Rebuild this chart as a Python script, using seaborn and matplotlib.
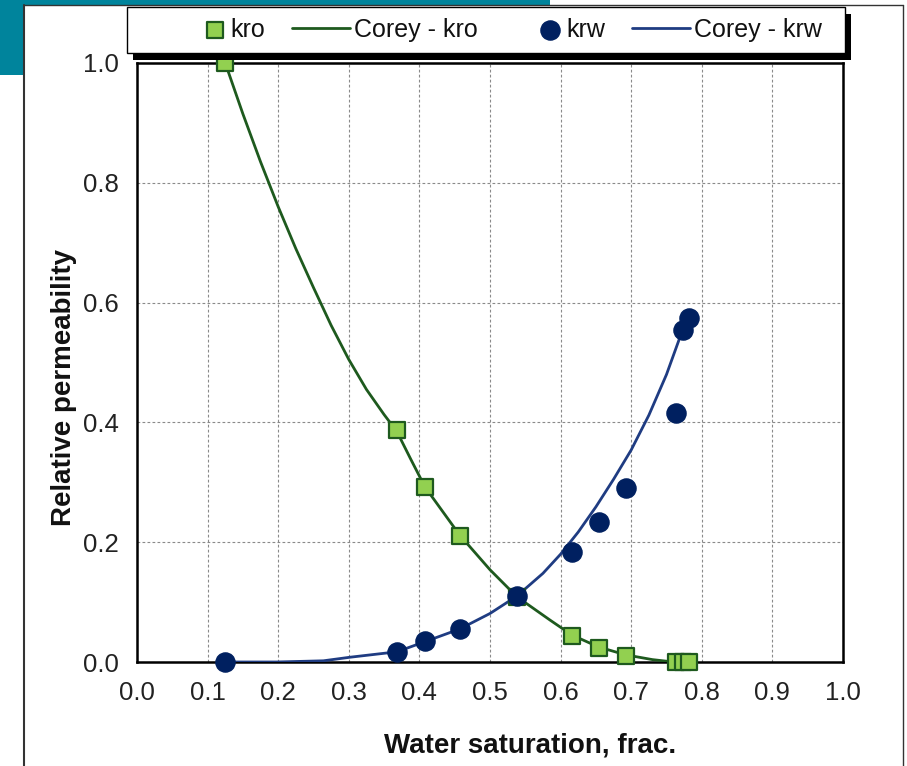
import numpy as np
import matplotlib
matplotlib.use("Agg")
import matplotlib.pyplot as plt
import seaborn as sns
from matplotlib.patches import Rectangle
from matplotlib.lines import Line2D
from matplotlib.legend_handler import HandlerLine2D

# Measured relative permeability (water saturation, fraction)
sw_kro = [0.125, 0.368, 0.408, 0.457, 0.538, 0.616, 0.654, 0.693, 0.763, 0.773, 0.782]
kro = [1.000, 0.387, 0.292, 0.210, 0.108, 0.043, 0.023, 0.010, 0.000, 0.000, 0.000]

sw_krw = [0.125, 0.368, 0.408, 0.457, 0.538, 0.616, 0.654, 0.693, 0.763, 0.773, 0.782]
krw = [0.000, 0.017, 0.035, 0.055, 0.110, 0.183, 0.233, 0.290, 0.415, 0.555, 0.575]

# Corey model curves
corey_sw_kro = [0.125, 0.150, 0.175, 0.200, 0.225, 0.250, 0.275, 0.300, 0.325, 0.350,
                0.368, 0.388, 0.408, 0.457, 0.500, 0.538, 0.585, 0.616, 0.654, 0.692,
                0.730, 0.760, 0.782]
corey_kro = [1.000, 0.915, 0.835, 0.760, 0.690, 0.625, 0.562, 0.505, 0.455, 0.413,
             0.385, 0.338, 0.292, 0.212, 0.154, 0.109, 0.070, 0.045, 0.025, 0.012,
             0.004, 0.000, 0.000]

corey_sw_krw = [0.125, 0.198, 0.264, 0.302, 0.368, 0.408, 0.457, 0.500, 0.538, 0.575,
                0.600, 0.625, 0.650, 0.675, 0.700, 0.725, 0.750, 0.773]
corey_krw = [0.000, 0.000, 0.002, 0.008, 0.017, 0.034, 0.055, 0.081, 0.110, 0.148,
             0.180, 0.217, 0.259, 0.305, 0.354, 0.412, 0.480, 0.555]

x_ticks = [0.0, 0.1, 0.2, 0.3, 0.4, 0.5, 0.6, 0.7, 0.8, 0.9, 1.0]
y_ticks = [0.0, 0.2, 0.4, 0.6, 0.8, 1.0]

GREEN_FACE = "#92D050"
GREEN_EDGE = "#1E5A1E"
GREEN_LINE = "#1E5A1E"
NAVY = "#002060"
NAVY_LINE = "#1F3C82"
TEAL = "#00849C"

sns.set_theme(style="white")
plt.rcParams["font.family"] = ["Liberation Sans", "DejaVu Sans"]

W, H = 907, 766
fig = plt.figure(figsize=(W / 100, H / 100), dpi=100)
fig.patch.set_facecolor("white")


def fx(px):
    return px / W


def fy(py):
    return 1 - py / H


class LongLineHandler(HandlerLine2D):
    """Line legend key that reaches further left than the handle box."""

    def __init__(self, extra, **kw):
        super().__init__(**kw)
        self.extra = extra

    def create_artists(self, legend, orig_handle, xdescent, ydescent,
                       width, height, fontsize, trans):
        artists = super().create_artists(legend, orig_handle, xdescent, ydescent,
                                         width, height, fontsize, trans)
        for a in artists:
            if isinstance(a, Line2D):
                xd = np.asarray(a.get_xdata(), dtype=float)
                if len(xd) >= 2:
                    a.set_xdata(np.linspace(xd[0] - self.extra, xd[-1], len(xd)))
        return artists


# Slide frame decorations
fig.add_artist(Rectangle((0, fy(75)), fx(24), 75 / H, transform=fig.transFigure,
                         facecolor=TEAL, edgecolor="none", zorder=0))
fig.add_artist(Rectangle((0, fy(5)), fx(550), 5 / H, transform=fig.transFigure,
                         facecolor=TEAL, edgecolor="none", zorder=0))
fig.add_artist(Line2D([fx(24), fx(24)], [fy(5), fy(770)], transform=fig.transFigure,
                      color="#333333", lw=1.5, zorder=1))
fig.add_artist(Line2D([fx(24), fx(903)], [fy(5), fy(5)], transform=fig.transFigure,
                      color="#333333", lw=1.0, zorder=1))
fig.add_artist(Line2D([fx(903), fx(903)], [fy(5), fy(770)], transform=fig.transFigure,
                      color="#333333", lw=1.0, zorder=1))

ax = fig.add_axes([fx(137), fy(662), (843 - 137) / W, (662 - 63) / H])
ax.set_facecolor("white")

sns.lineplot(x=corey_sw_kro, y=corey_kro, ax=ax, color=GREEN_LINE, lw=2,
             sort=False, estimator=None, label="Corey - kro", zorder=3)
sns.lineplot(x=corey_sw_krw, y=corey_krw, ax=ax, color=NAVY_LINE, lw=2,
             sort=False, estimator=None, label="Corey - krw", zorder=3)
sns.scatterplot(x=sw_kro, y=kro, ax=ax, marker="s", s=140, color=GREEN_FACE,
                edgecolor=GREEN_EDGE, linewidth=1.6, label="kro", zorder=4,
                clip_on=False)
sns.scatterplot(x=sw_krw, y=krw, ax=ax, marker="o", s=190, color=NAVY,
                edgecolor=NAVY, linewidth=1.0, label="krw", zorder=5,
                clip_on=False)

ax.set_xlim(0, 1)
ax.set_ylim(0, 1)
ax.set_xticks(x_ticks)
ax.set_xticklabels([f"{v:.1f}" for v in x_ticks])
ax.set_yticks(y_ticks)
ax.set_yticklabels([f"{v:.1f}" for v in y_ticks])
ax.tick_params(axis="both", direction="out", length=5, width=1.3, color="black",
               labelsize=18.5, labelcolor="#222222")
ax.tick_params(axis="x", pad=9)
ax.tick_params(axis="y", pad=8)
ax.grid(True, color="#8a8a8a", linestyle=(0, (2.5, 2)), linewidth=0.8)
ax.set_axisbelow(True)
for sp in ax.spines.values():
    sp.set_color("black")
    sp.set_linewidth(1.8)

ax.set_xlabel("Water saturation, frac.", fontsize=20, fontweight="bold", color="#111111")
ax.set_ylabel("Relative permeability", fontsize=20, fontweight="bold", color="#111111")
ax.xaxis.set_label_coords(0.557, -0.139)
ax.xaxis.label.set_va("center")
ax.yaxis.set_label_coords(-0.103, 0.459)
ax.yaxis.label.set_va("center")

# Legend panel with drop shadow
handles, labels = ax.get_legend_handles_labels()
ax.get_legend().remove()
order = ["kro", "Corey - kro", "krw", "Corey - krw"]
hmap = dict(zip(labels, handles))
fig.add_artist(Rectangle((fx(133), fy(60)), (845 - 127) / W, 46 / H,
                         transform=fig.transFigure, facecolor="black",
                         edgecolor="none", zorder=3))
fig.add_artist(Rectangle((fx(127), fy(53)), (845 - 127) / W, 46 / H,
                         transform=fig.transFigure, facecolor="white",
                         edgecolor="black", lw=1.0, zorder=4))
leg = fig.legend([hmap[k] for k in order], order, loc="center",
                 bbox_to_anchor=(fx(202), fy(53), (822 - 202) / W, 46 / H),
                 mode="expand", ncol=4, frameon=False, borderpad=0,
                 borderaxespad=0, handlelength=1.0, handletextpad=0.15,
                 fontsize=18, scatterpoints=1, labelcolor="#111111",
                 handler_map={Line2D: LongLineHandler(extra=24)})
leg.set_zorder(6)

fig.savefig("out.png", dpi=100)
